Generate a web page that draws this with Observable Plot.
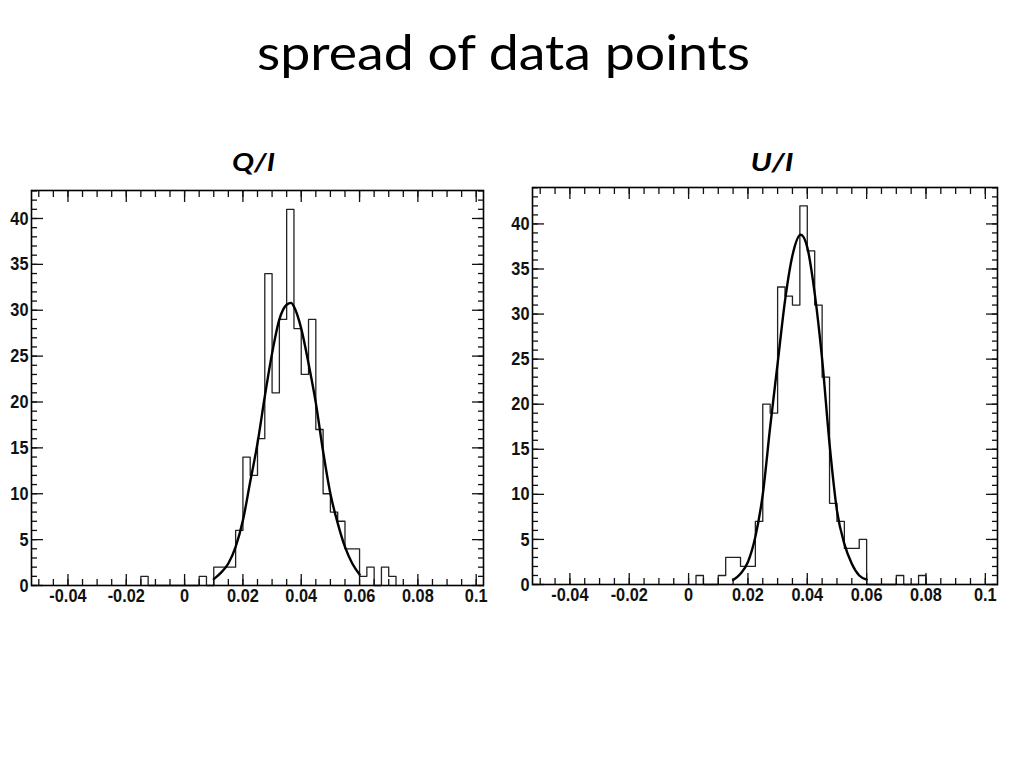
<!DOCTYPE html>
<html>
<head>
<meta charset="utf-8">
<script src="https://cdn.jsdelivr.net/npm/d3@7"></script>
<script src="https://cdn.jsdelivr.net/npm/@observablehq/plot@0.6"></script>
<style>
html, body { margin: 0; padding: 0; background: #fff; }
#page { position: relative; width: 1024px; height: 768px; overflow: hidden; background: #fff; }
#page svg { position: absolute; }
</style>
</head>
<body>
<div id="page"></div>
<script>
// ---------------- data ----------------
const pageTitle = "spread of data points";
const panelTitles = ["Q/I", "U/I"];

const binWidth = 0.0025;

// Q/I histogram: counts per bin, first bin starts at qiFirstBin
const qiFirstBin = -0.015;
const qiCounts = [1, 0, 0, 0, 0, 0, 0, 0, 1, 0, 2, 2, 2, 6, 14, 12, 16, 34, 21, 29, 41, 28, 23, 29, 17, 10, 8, 7, 4, 4, 1, 2, 0, 2, 1];

// U/I histogram
const uiFirstBin = 0.0025;
const uiCounts = [1, 0, 0, 1, 3, 3, 2, 2, 7, 20, 19, 33, 32, 31, 42, 37, 31, 23, 9, 7, 4, 4, 5, 0, 0, 0, 0, 1, 0, 0, 1];

// Gaussian fit curves
const qiFitX = [0.01, 0.0125, 0.015, 0.0175, 0.02, 0.0225, 0.025, 0.0275, 0.03, 0.0325, 0.035, 0.0365, 0.0375, 0.04, 0.0425, 0.045, 0.0475, 0.05, 0.0525, 0.055, 0.0575, 0.06];
const qiFitY = [0.7, 1.4, 2.4, 4.2, 7.1, 11.3, 15.5, 20.6, 25.3, 29.0, 30.6, 30.8, 30.4, 28.0, 24.2, 19.9, 14.6, 10.0, 6.8, 4.2, 2.4, 1.2];

const uiFitX = [0.015, 0.0175, 0.02, 0.0225, 0.025, 0.0275, 0.03, 0.0325, 0.035, 0.0378, 0.04, 0.0425, 0.045, 0.0475, 0.05, 0.0525, 0.055, 0.0575, 0.06];
const uiFitY = [0.5, 1.2, 2.5, 5.3, 10.0, 17.5, 24.5, 31.5, 36.5, 38.8, 37.4, 32.3, 25.0, 15.6, 8.2, 4.5, 2.3, 1.0, 0.55];

// axes
const xMajorTicks = [-0.04, -0.02, 0, 0.02, 0.04, 0.06, 0.08, 0.1];
const xTickLabels = ["-0.04", "-0.02", "0", "0.02", "0.04", "0.06", "0.08", "0.1"];
const yMajorTicks = [0, 5, 10, 15, 20, 25, 30, 35, 40];
const yTickLabels = ["0", "5", "10", "15", "20", "25", "30", "35", "40"];
const xMinorTicks = d3.range(-50, 101, 5).map(v => v / 1000);

// ---------------- helpers ----------------
function stepPoints(first, counts) {
  const pts = [{x: first, y: 0}];
  counts.forEach((c, i) => pts.push({x: first + i * binWidth, y: c}));
  const end = first + counts.length * binWidth;
  pts.push({x: end, y: counts[counts.length - 1]});
  pts.push({x: end, y: 0});
  return pts;
}

function panel({counts, first, fitX, fitY, xDomain, yDomain, width, height, marginLeft, marginRight, marginTop, marginBottom}) {
  const fit = fitX.map((x, i) => ({x, y: fitY[i]}));
  const yMinor = d3.range(0, Math.floor(yDomain[1]) + 1);
  const tickStyle = {stroke: "#111", strokeWidth: 1.3, label: null, fill: "none"};
  const svg = Plot.plot({
    width, height, marginLeft, marginRight, marginTop, marginBottom,
    x: {domain: xDomain, label: null},
    y: {domain: yDomain, label: null},
    style: {fontFamily: "'Liberation Sans', Arial, sans-serif", fontSize: "19px", fontWeight: "bold", color: "#111", background: "transparent"},
    marks: [
      Plot.line(stepPoints(first, counts), {x: "x", y: "y", curve: "step-after", stroke: "#222", strokeWidth: 1.3}),
      Plot.line(fit, {x: "x", y: "y", curve: "monotone-x", stroke: "#000", strokeWidth: 2.4}),
      // ticks (inward, on all four sides)
      Plot.axisX(xMinorTicks, {anchor: "bottom", tickSize: -6, ...tickStyle}),
      Plot.axisX(xMajorTicks, {anchor: "bottom", tickSize: -11, ...tickStyle}),
      Plot.axisX(xMinorTicks, {anchor: "top", tickSize: -6, ...tickStyle}),
      Plot.axisX(xMajorTicks, {anchor: "top", tickSize: -11, ...tickStyle}),
      Plot.axisY(yMinor, {anchor: "left", tickSize: -6, ...tickStyle}),
      Plot.axisY(yMajorTicks, {anchor: "left", tickSize: -12, ...tickStyle}),
      Plot.axisY(yMinor, {anchor: "right", tickSize: -6, ...tickStyle}),
      Plot.axisY(yMajorTicks, {anchor: "right", tickSize: -12, ...tickStyle}),
      // labels
      Plot.axisX(xMajorTicks, {anchor: "bottom", tickSize: 0, tickPadding: 3, label: null, fill: "#111",
        tickFormat: d => xTickLabels[xMajorTicks.indexOf(d)]}),
      Plot.axisY(yMajorTicks, {anchor: "left", tickSize: 0, tickPadding: 3, label: null, fill: "#111",
        tickFormat: d => yTickLabels[yMajorTicks.indexOf(d)]}),
      Plot.frame({stroke: "#000", strokeWidth: 1.6})
    ]
  });
  // horizontally condense tick labels (ROOT-like narrow bold font)
  svg.querySelectorAll('g[aria-label$="tick label"] text').forEach(t => {
    let tr = t.getAttribute("transform");
    if (!tr) {
      const x = +(t.getAttribute("x") || 0), y = +(t.getAttribute("y") || 0);
      t.removeAttribute("x"); t.removeAttribute("y");
      tr = `translate(${x},${y})`;
    }
    t.setAttribute("transform", tr + " scale(0.86,1)");
  });
  return svg;
}

// ---------------- layout ----------------
const page = document.getElementById("page");

const left = panel({
  counts: qiCounts, first: qiFirstBin, fitX: qiFitX, fitY: qiFitY,
  xDomain: [-0.0525, 0.1025], yDomain: [0, 43.05],
  width: 490, height: 445, marginLeft: 31, marginRight: 7, marginTop: 20, marginBottom: 30
});
left.style.left = "0px"; left.style.top = "170px";
page.appendChild(left);

const right = panel({
  counts: uiCounts, first: uiFirstBin, fitX: uiFitX, fitY: uiFitY,
  xDomain: [-0.0526, 0.1041], yDomain: [0, 44.04],
  width: 505, height: 447, marginLeft: 32, marginRight: 8, marginTop: 20, marginBottom: 30
});
right.style.left = "500px"; right.style.top = "167px";
page.appendChild(right);

// titles
const over = d3.select(page).append("svg")
  .attr("width", 1024).attr("height", 768)
  .style("left", "0px").style("top", "0px");
over.append("text")
  .attr("x", 503.5).attr("y", 70)
  .attr("text-anchor", "middle")
  .attr("font-family", "Lato, 'Open Sans', sans-serif")
  .attr("font-size", 48)
  .attr("textLength", 493).attr("lengthAdjust", "spacingAndGlyphs")
  .attr("fill", "#000")
  .text(pageTitle);
[[253.5, panelTitles[0]], [772, panelTitles[1]]].forEach(([x, t]) => {
  over.append("text")
    .attr("x", x).attr("y", 171)
    .attr("text-anchor", "middle")
    .attr("font-family", "Lato, 'Open Sans', sans-serif")
    .attr("font-size", 25).attr("font-weight", "bold").attr("font-style", "italic")
    .attr("textLength", 43).attr("lengthAdjust", "spacingAndGlyphs")
    .attr("fill", "#000")
    .text(t);
});
</script>
</body>
</html>
